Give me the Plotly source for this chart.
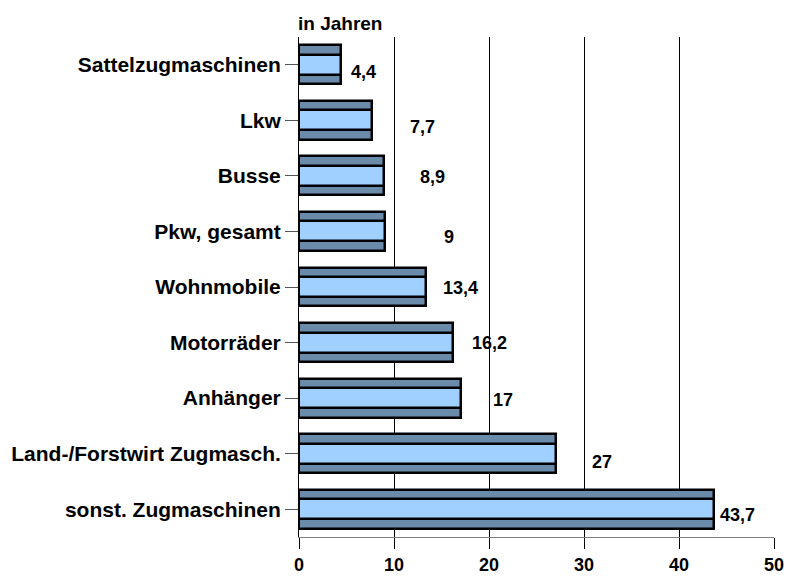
import plotly.graph_objects as go

# ---- data ----
categories = ["Sattelzugmaschinen", "Lkw", "Busse", "Pkw, gesamt", "Wohnmobile",
              "Motorräder", "Anhänger", "Land-/Forstwirt Zugmasch.", "sonst. Zugmaschinen"]
values = [4.4, 7.7, 8.9, 9, 13.4, 16.2, 17, 27, 43.7]
value_labels = ["4,4", "7,7", "8,9", "9", "13,4", "16,2", "17", "27", "43,7"]
x_ticks = [0, 10, 20, 30, 40, 50]

# ---- label placement (style, not data) ----
label_x = [6.74, 13.05, 14.0, 15.8, 17.05, 20.0, 21.5, 31.9, 46.2]
label_dy = [7, 7, 1, 5.5, 1, 0, 2, 8, 6]

FONT = "Liberation Sans, Arial, sans-serif"
DARK = "#6A8BAA"
LIGHT = "#A0D0FF"

fig = go.Figure()
fig.add_trace(go.Bar(
    y=categories, x=values, orientation="h", width=0.70,
    marker=dict(color=DARK, line=dict(color="black", width=2.5)),
    hoverinfo="skip", showlegend=False))
fig.add_trace(go.Bar(
    y=categories, x=values, orientation="h", width=0.36,
    marker=dict(color=LIGHT, line=dict(color="black", width=2.5)),
    hoverinfo="skip", showlegend=False))

annotations = []
for cat, lx, dy, txt in zip(categories, label_x, label_dy, value_labels):
    annotations.append(dict(
        x=lx, y=cat, xref="x", yref="y", text=txt, showarrow=False,
        xanchor="center", yanchor="middle", yshift=-dy,
        font=dict(family=FONT, size=18, color="black", weight="bold")))

annotations.append(dict(
    x=0, y=1.026, xref="paper", yref="paper", text="in Jahren", showarrow=False,
    xanchor="left", yanchor="middle", xshift=-3,
    font=dict(family=FONT, size=19, color="black", weight="bold")))

fig.update_layout(
    width=786, height=576,
    margin=dict(l=299, r=12, t=37, b=39, autoexpand=False),
    paper_bgcolor="white", plot_bgcolor="white",
    barmode="overlay", bargap=0,
    annotations=annotations,
    font=dict(family=FONT, color="black"),
)
fig.update_xaxes(
    range=[0, 50], tickvals=x_ticks, ticktext=[str(t) for t in x_ticks],
    showgrid=True, gridcolor="black", gridwidth=1, zeroline=False,
    showline=True, linecolor="#808080", linewidth=1,
    ticks="outside", ticklen=11, tickcolor="black", tickwidth=1,
    tickfont=dict(family=FONT, size=18, color="black", weight="bold"),
    automargin=False, fixedrange=True)
fig.update_yaxes(
    autorange="reversed", showgrid=False, zeroline=False,
    showline=True, linecolor="black", linewidth=1,
    ticks="outside", ticklen=13, tickcolor="#555555", tickwidth=1,
    tickfont=dict(family=FONT, size=21, color="black", weight="bold"),
    automargin=False, fixedrange=True)

fig.write_html("out.html", config={"displayModeBar": False},
               post_script="document.body.style.margin='0';document.body.style.overflow='hidden';")
